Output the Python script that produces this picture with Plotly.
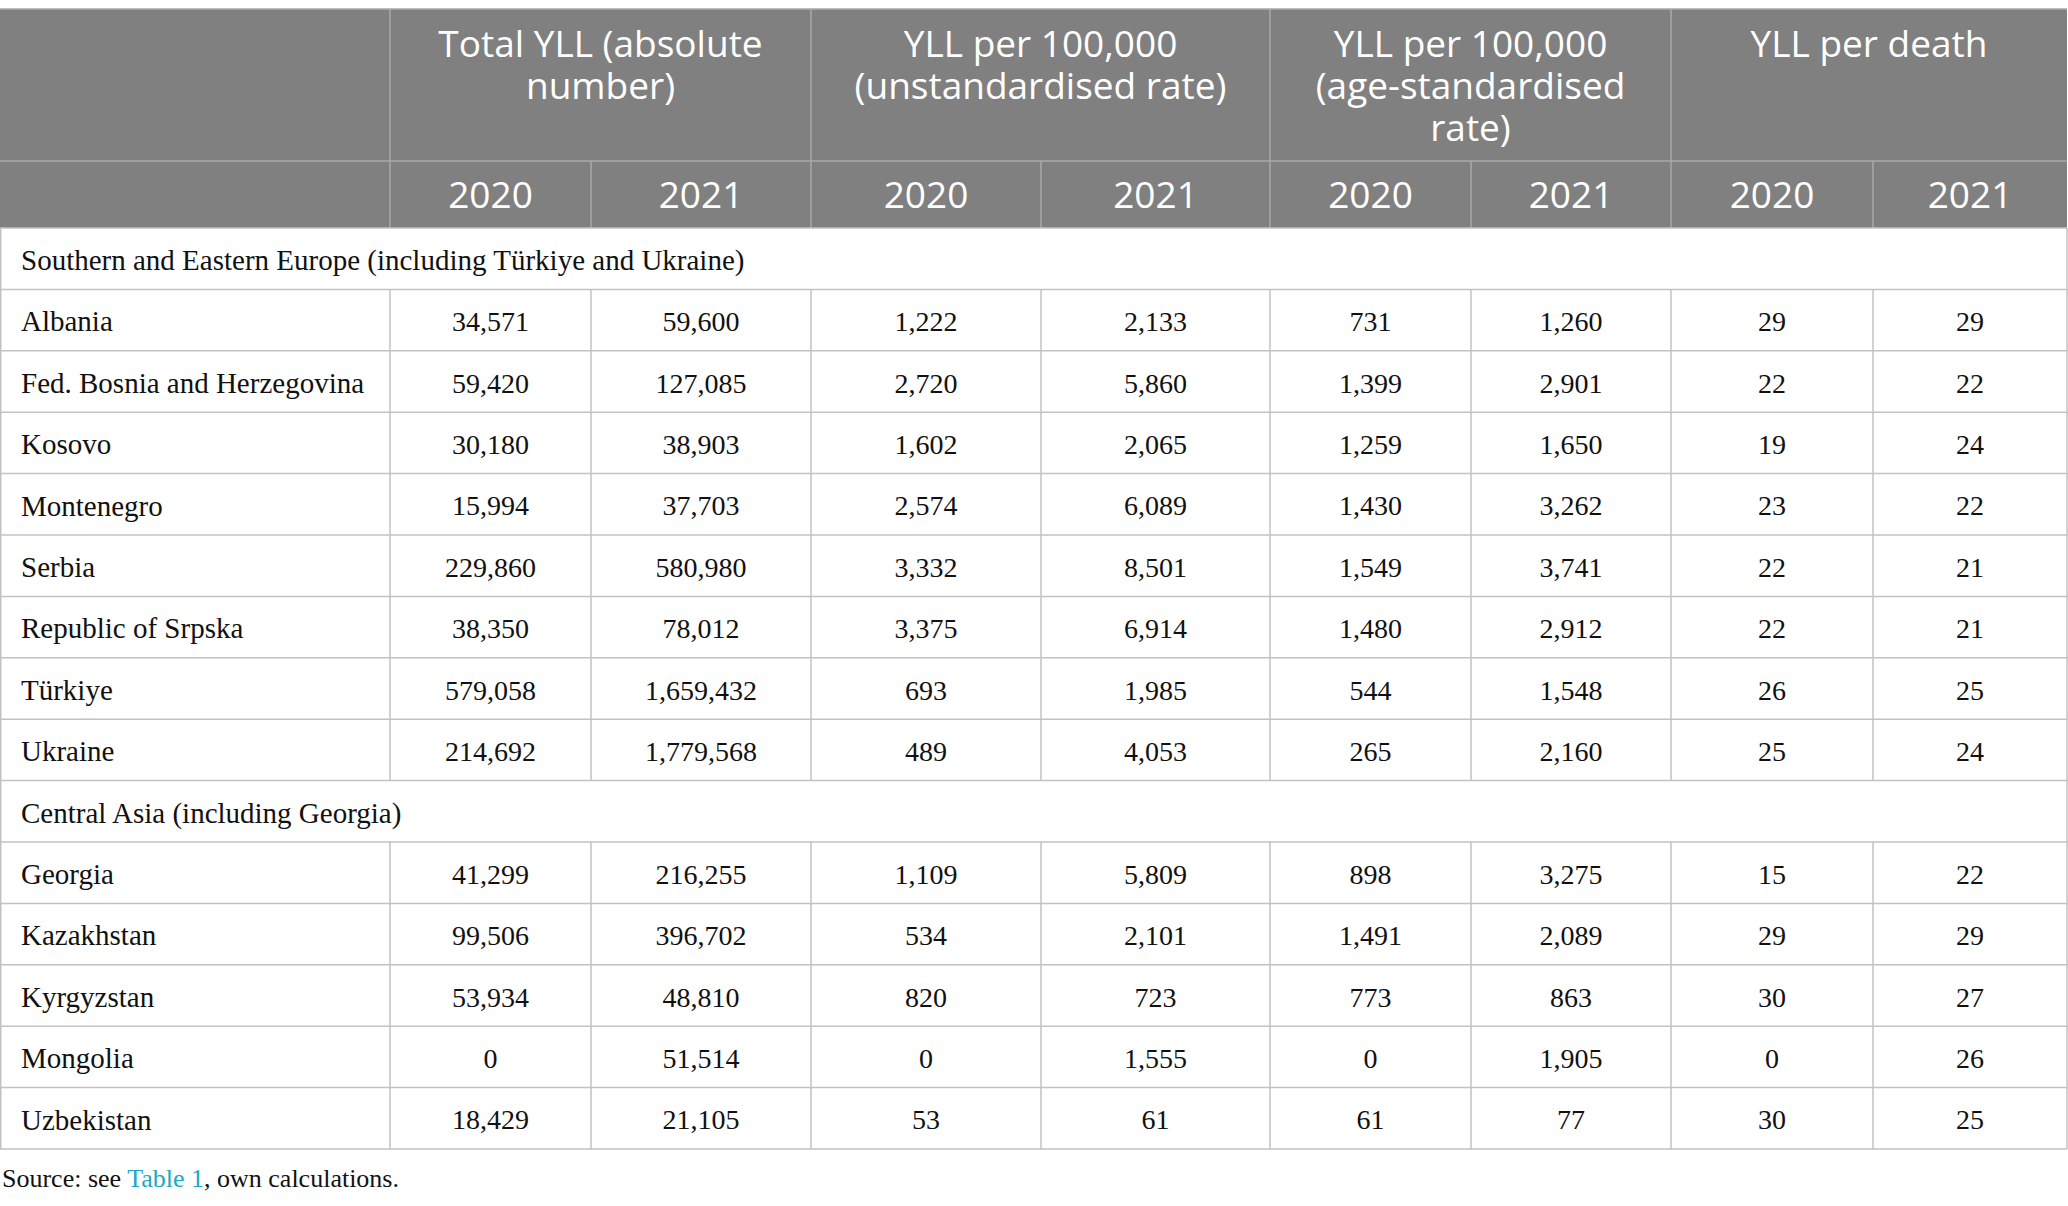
import plotly.graph_objects as go

# ---- data ----
section_titles = ["Southern and Eastern Europe (including Türkiye and Ukraine)",
                  "Central Asia (including Georgia)"]
europe = ["Albania", "Fed. Bosnia and Herzegovina", "Kosovo", "Montenegro",
          "Serbia", "Republic of Srpska", "Türkiye", "Ukraine"]
central_asia = ["Georgia", "Kazakhstan", "Kyrgyzstan", "Mongolia", "Uzbekistan"]
countries = europe + central_asia

group_titles = [["Total YLL (absolute", "number)"],
                ["YLL per 100,000", "(unstandardised rate)"],
                ["YLL per 100,000", "(age-standardised", "rate)"],
                ["YLL per death"]]
years = ["2020", "2021"]

total_2020 = [34571, 59420, 30180, 15994, 229860, 38350, 579058, 214692,
              41299, 99506, 53934, 0, 18429]
total_2021 = [59600, 127085, 38903, 37703, 580980, 78012, 1659432, 1779568,
              216255, 396702, 48810, 51514, 21105]
rate_2020 = [1222, 2720, 1602, 2574, 3332, 3375, 693, 489,
             1109, 534, 820, 0, 53]
rate_2021 = [2133, 5860, 2065, 6089, 8501, 6914, 1985, 4053,
             5809, 2101, 723, 1555, 61]
asr_2020 = [731, 1399, 1259, 1430, 1549, 1480, 544, 265,
            898, 1491, 773, 0, 61]
asr_2021 = [1260, 2901, 1650, 3262, 3741, 2912, 1548, 2160,
            3275, 2089, 863, 1905, 77]
per_death_2020 = [29, 22, 19, 23, 22, 22, 26, 25, 15, 29, 30, 0, 30]
per_death_2021 = [29, 22, 24, 22, 21, 21, 25, 24, 22, 29, 27, 26, 25]

columns = [total_2020, total_2021, rate_2020, rate_2021,
           asr_2020, asr_2021, per_death_2020, per_death_2021]

source_note = "Source: see <span style='color:#1aa9c3'>Table 1</span>, own calculations."

# ---- layout (pixels) ----
W, H = 2068, 1206
col_x = [0, 390, 591, 811, 1041, 1270, 1471, 1671, 1873, 2067]
head_top, head_mid, head_bot = 9, 161, 228
row_h = 61.4
line_gap = 42.2
dy = 4  # plotly puts "middle" text a touch high
head_bg = "#808080"
head_line = "#a8a8a8"
grid = "#c2c2c2"
ink = "#111111"
sans = "Open Sans"
serif = "Liberation Serif"

rows = [("section", 0)] + [("country", i) for i in range(len(europe))] + \
       [("section", 1)] + [("country", len(europe) + i) for i in range(len(central_asia))]
body_bot = head_bot + row_h * len(rows)

shapes = []


def line(x0, y0, x1, y1, color):
    shapes.append(dict(type="line", xref="x", yref="y", x0=x0, y0=y0, x1=x1, y1=y1,
                       line=dict(color=color, width=1.5), layer="above"))


# header block
shapes.append(dict(type="rect", xref="x", yref="y", x0=col_x[0], x1=col_x[-1],
                   y0=head_top, y1=head_bot, fillcolor=head_bg, line=dict(width=0), layer="below"))
line(col_x[0], head_top, col_x[-1], head_top, head_line)
line(col_x[0], head_mid, col_x[-1], head_mid, head_line)
for i in range(1, len(col_x) - 1):
    top = head_top if i % 2 == 1 else head_mid
    line(col_x[i], top, col_x[i], head_bot, head_line)

# body grid
line(col_x[0], head_bot, col_x[-1], head_bot, grid)
for r, (kind, _) in enumerate(rows):
    y0 = head_bot + r * row_h
    y1 = y0 + row_h
    line(col_x[0], y1, col_x[-1], y1, grid)
    if kind == "country":
        for i in range(1, len(col_x) - 1):
            line(col_x[i], y0, col_x[i], y1, grid)
line(col_x[0] + 0.75, head_bot, col_x[0] + 0.75, body_bot, grid)
line(col_x[-1], head_bot, col_x[-1], body_bot, grid)

fig = go.Figure()

# header group titles
hx, hy, ht = [], [], []
for g, lines_ in enumerate(group_titles):
    cx = (col_x[1 + 2 * g] + col_x[3 + 2 * g]) / 2
    for k, t in enumerate(lines_):
        hx.append(cx)
        hy.append(head_top + 34.5 + dy + k * line_gap)
        ht.append(t)
for c in range(len(columns)):
    hx.append((col_x[c + 1] + col_x[c + 2]) / 2)
    hy.append((head_mid + head_bot) / 2 + dy)
    ht.append(years[c % 2])
fig.add_trace(go.Scatter(x=hx, y=hy, text=ht, mode="text", textposition="middle center",
                         textfont=dict(family=sans, size=37, color="white"), hoverinfo="skip"))

# row labels and values
lx, ly, lt = [], [], []
vx, vy, vt = [], [], []
for r, (kind, idx) in enumerate(rows):
    cy = head_bot + (r + 0.5) * row_h + dy
    lx.append(col_x[0] + 21)
    ly.append(cy)
    if kind == "section":
        lt.append(section_titles[idx])
    else:
        lt.append(countries[idx])
        for c, col in enumerate(columns):
            vx.append((col_x[c + 1] + col_x[c + 2]) / 2)
            vy.append(cy)
            vt.append(f"{col[idx]:,}")
fig.add_trace(go.Scatter(x=lx, y=ly, text=lt, mode="text", textposition="middle right",
                         textfont=dict(family=serif, size=29, color=ink), hoverinfo="skip"))
fig.add_trace(go.Scatter(x=vx, y=vy, text=vt, mode="text", textposition="middle center",
                         textfont=dict(family=serif, size=28, color=ink), hoverinfo="skip"))

fig.add_annotation(x=0, y=body_bot + 29, xref="x", yref="y", text=source_note,
                   showarrow=False, xanchor="left", yanchor="middle",
                   font=dict(family=serif, size=26, color=ink))

fig.update_layout(width=W, height=H, margin=dict(l=0, r=0, t=0, b=0),
                  paper_bgcolor="white", plot_bgcolor="white", showlegend=False,
                  shapes=shapes,
                  xaxis=dict(range=[0, W], visible=False, fixedrange=True),
                  yaxis=dict(range=[H, 0], visible=False, fixedrange=True))

fig.write_html("out.html", config={"displayModeBar": False},
               post_script="document.body.style.margin='0';document.body.style.overflow='hidden';")
